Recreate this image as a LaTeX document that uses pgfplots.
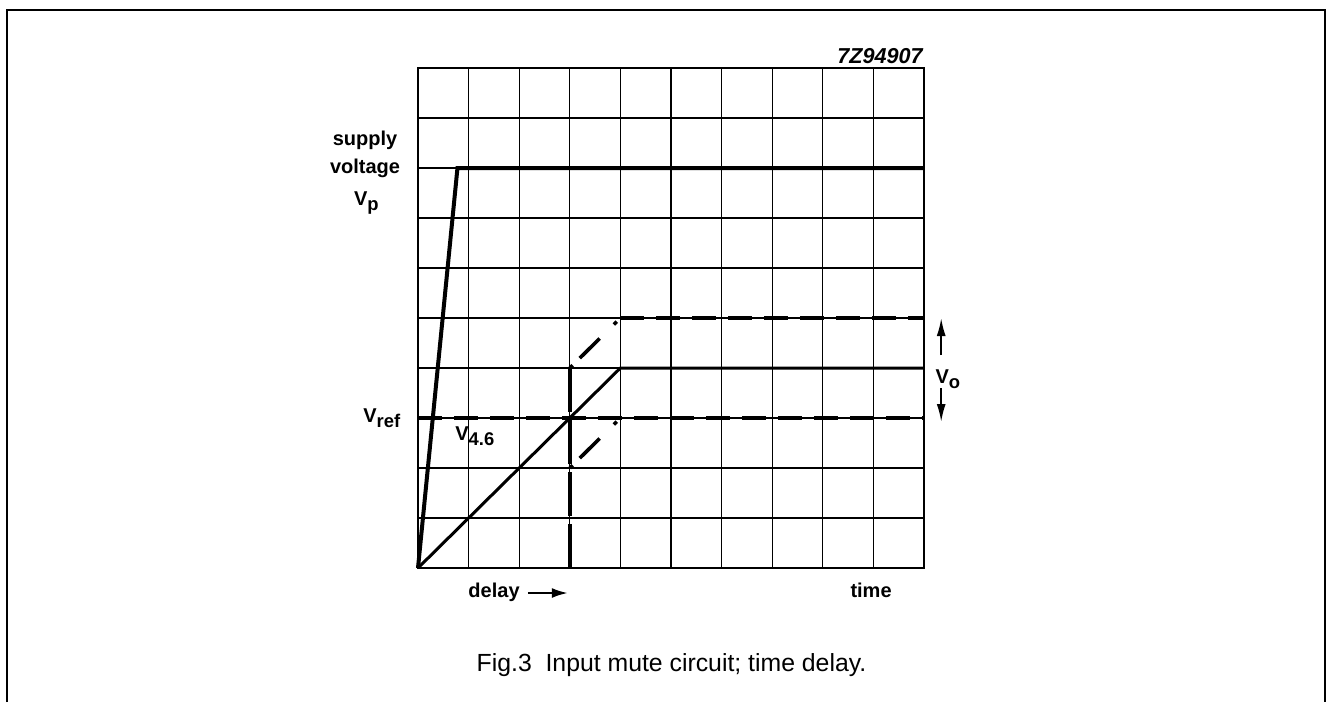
\documentclass[border=0pt]{standalone}
\usepackage{fontspec}
\setmainfont{Liberation Sans}
\usepackage{pgfplots}
\pgfplotsset{compat=1.18}
\usetikzlibrary{arrows.meta}
\newcommand{\lbl}{\fontsize{10}{12}\selectfont\bfseries}
\newcommand{\sub}[1]{\raisebox{-0.5ex}{\fontsize{9.2}{10}\selectfont #1}}
\begin{document}
\begin{tikzpicture}
\begin{axis}[
  scale only axis, width=253pt, height=250pt,
  xmin=0, xmax=10, ymin=0, ymax=10,
  xtick={0,1,...,10}, ytick={0,1,...,10},
  xticklabel=\empty, yticklabel=\empty,
  major tick length=0pt,
  grid=major,
  major grid style={black, line width=0.6pt},
  axis line style={black, line width=1.1pt},
  clip=false,
]
% bounding box of the page and outer frame
\path (axis cs:-8.261,-2.68) rectangle (axis cs:18.004,11.36);
\draw[line width=0.8pt] (axis cs:-8.12,-2.68) -- (axis cs:-8.12,11.16) -- (axis cs:17.92,11.16) -- (axis cs:17.92,-2.68);

% supply voltage
\addplot[black, line width=2pt, line join=miter] coordinates {(0,0) (0.78,8) (10,8)};
% V4.6
\addplot[black, line width=1.5pt] coordinates {(0,0) (4,4) (10,4)};
% Vref dashed
\addplot[black, line width=1.8pt, dash pattern=on 12pt off 6pt] coordinates {(0,3) (10,3)};
% upper dashed
\addplot[black, line width=1.8pt, dash pattern=on 12pt off 6pt] coordinates {(4,5) (10,5)};
\addplot[black, line width=1.8pt, dash pattern=on 2pt off 5pt on 14pt off 10pt] coordinates {(3,4) (4,5)};
% lower dashed
\addplot[black, line width=1.8pt, dash pattern=on 2pt off 5pt on 14pt off 10pt] coordinates {(3,2) (4,3)};
% vertical dashed
\addplot[black, line width=1.8pt, dash pattern=on 22pt off 4pt] coordinates {(3,0) (3,4)};

% labels
\node[font=\fontsize{10.8}{12}\selectfont\bfseries\itshape, anchor=base east, inner sep=0pt] at (axis cs:9.98,10.1) {7Z94907};
\node[font=\lbl, anchor=center, inner sep=0pt] at (axis cs:-1.047,8.56) {supply};
\node[font=\lbl, anchor=center, inner sep=0pt] at (axis cs:-1.047,8.0) {voltage};
\node[font=\lbl, anchor=base west, inner sep=0pt] at (axis cs:-1.27,7.26) {V\sub{p}};
\node[font=\lbl, anchor=base west, inner sep=0pt] at (axis cs:-1.087,2.92) {V\sub{ref}};
\node[font=\lbl, anchor=base west, inner sep=0pt] at (axis cs:0.73,2.56) {V\sub{4.6}};
\node[font=\lbl, anchor=base west, inner sep=0pt] at (axis cs:10.22,3.7) {V\sub{o}};
\draw[line width=1pt, -{Latex[length=9pt,width=4.5pt]}] (axis cs:10.34,4.26) -- (axis cs:10.34,5.0);
\draw[line width=1pt, -{Latex[length=9pt,width=4.5pt]}] (axis cs:10.34,3.6) -- (axis cs:10.34,2.92);
\node[font=\lbl, anchor=base west, inner sep=0pt] at (axis cs:0.99,-0.58) {delay};
\draw[line width=1pt, -{Latex[length=8pt,width=5pt]}] (axis cs:2.17,-0.5) -- (axis cs:2.96,-0.5);
\node[font=\lbl, anchor=base west, inner sep=0pt] at (axis cs:8.54,-0.58) {time};

% caption
\node[font=\fontsize{12.4}{14}\selectfont, anchor=base, inner sep=0pt] at (axis cs:5.01,-2.06) {Fig.3\ \ Input mute circuit; time delay.};
\end{axis}
\end{tikzpicture}
\end{document}
